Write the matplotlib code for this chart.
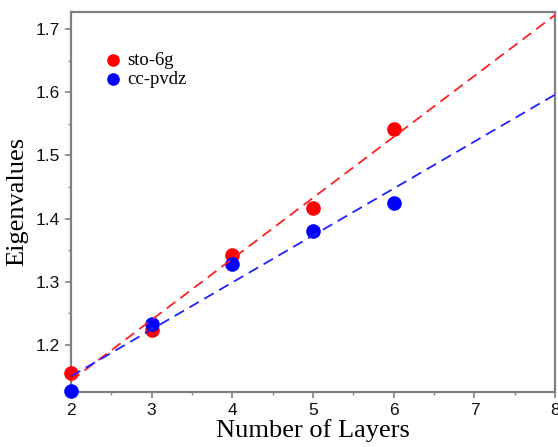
import numpy as np
import matplotlib.pyplot as plt
from matplotlib.ticker import MultipleLocator

layers = np.array([2, 3, 4, 5, 6])
sto6g = np.array([1.156, 1.223, 1.343, 1.417, 1.542])
ccpvdz = np.array([1.127, 1.233, 1.328, 1.381, 1.425])

fig = plt.figure(figsize=(5.58, 4.47), dpi=100)
ax = fig.add_axes([0.127, 0.124, 0.868, 0.849])

# linear fits drawn across the whole x range
xfit = np.array([2, 8])
p_red = np.polyfit(layers, sto6g, 1)
p_blue = np.polyfit(layers, ccpvdz, 1)

ax.scatter(layers, sto6g, s=90, color="red", label="sto-6g", zorder=3, clip_on=False)
ax.scatter(layers, ccpvdz, s=90, color="blue", label="cc-pvdz", zorder=3, clip_on=False)
ax.plot(xfit, np.polyval(p_red, xfit), color="#ff2020", lw=1.3, dashes=(6, 3.5), zorder=4)
ax.plot(xfit, np.polyval(p_blue, xfit), color="#2020ff", lw=1.3, dashes=(6, 3.5), zorder=4)

ax.set_xlim(2, 8)
ax.set_ylim(1.126, 1.727)
ax.xaxis.set_major_locator(MultipleLocator(1))
ax.xaxis.set_minor_locator(MultipleLocator(0.5))
ax.yaxis.set_major_locator(MultipleLocator(0.1))
ax.yaxis.set_minor_locator(MultipleLocator(0.05))
ax.yaxis.set_major_formatter(plt.FormatStrFormatter("%.1f"))

for s in ax.spines.values():
    s.set_color("#808080")
    s.set_linewidth(1.6)
ax.tick_params(which="major", length=4, width=1.2, color="#808080",
               labelsize=12.5, labelcolor="#111111", pad=4)
ax.tick_params(which="minor", length=2.5, width=1.0, color="#808080")
for lab in ax.get_xticklabels() + ax.get_yticklabels():
    lab.set_family("Liberation Sans")

ax.set_xlabel("Number of Layers", family="Liberation Serif", fontsize=19, labelpad=1)
ax.set_ylabel("Eigenvalues", family="Liberation Serif", fontsize=19, labelpad=5)

ax.legend(loc="upper left", bbox_to_anchor=(0.071, 0.895), frameon=False,
          prop={"family": "Liberation Serif", "size": 13.5}, handlelength=0.85,
          handletextpad=0.3, borderpad=0, borderaxespad=0, labelspacing=0.1,
          scatterpoints=1, markerscale=0.85)

fig.savefig("out.png", dpi=100)
